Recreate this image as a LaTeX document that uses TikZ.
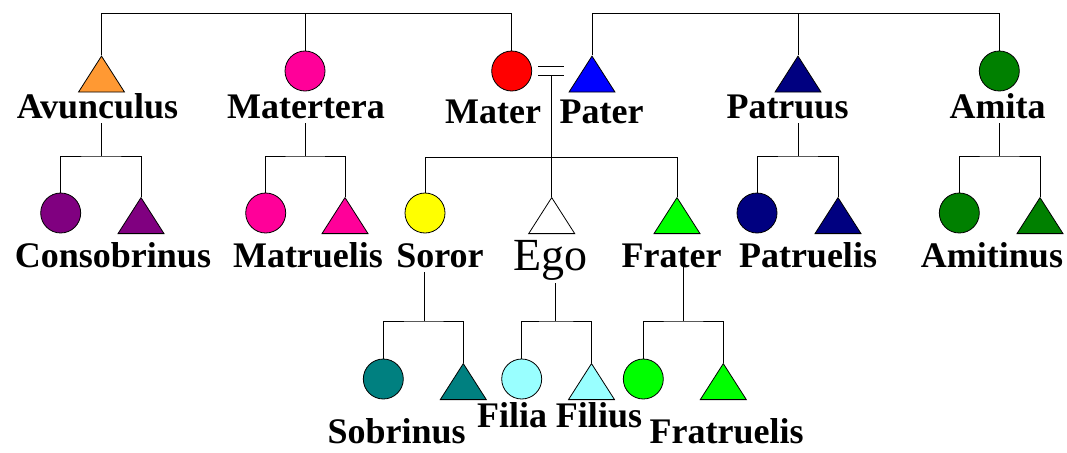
\documentclass[tikz,border=0pt]{standalone}
\usepackage{fontspec}
\setmainfont{Liberation Serif}
\usepackage{tikz}
\usetikzlibrary{shapes,shapes.geometric,positioning}
\definecolor{aurantium}{RGB}{255,153,51}
\definecolor{rosa}{RGB}{255,0,153}
\definecolor{ruber}{RGB}{255,0,0}
\definecolor{caeruleus}{RGB}{0,0,255}
\definecolor{navy}{RGB}{0,0,128}
\definecolor{viridis}{RGB}{0,128,0}
\definecolor{purpura}{RGB}{128,0,128}
\definecolor{flavus}{RGB}{255,255,0}
\definecolor{prasinus}{RGB}{0,255,0}
\definecolor{thalassa}{RGB}{0,128,128}
\definecolor{glaucus}{RGB}{153,255,255}
\tikzstyle{line} = [draw, line width=0.8pt]
\tikzstyle{fem} = [draw, circle, line width=0.8pt, minimum size=40pt, inner sep=0pt]
\tikzstyle{mas} = [draw, isosceles triangle, isosceles triangle stretches, shape border rotate=90, line width=0.8pt, minimum width=46pt, minimum height=36pt, inner sep=0pt]
\tikzstyle{kin} = [inner sep=0pt, text height=24pt, text depth=5pt, font=\fontsize{36}{40}\selectfont\bfseries]

\begin{document}
\begin{tikzpicture}[x=1pt, y=-1pt]
		\useasboundingbox (0,0) rectangle (1067,452);
		
		\node [mas, fill=aurantium] (avunc) at (101.5,79.5) {};
		\node [fem, fill=rosa, right of = avunc, node distance = 203.5pt, yshift=8.5pt] (matertera) {};
		\node [fem, fill=ruber, right of = matertera, node distance = 206.7pt] (mater) {};
		\node [mas, fill=caeruleus, right of = mater, node distance = 80.3pt, yshift=-8.5pt] (pater) {};
		\node [mas, fill=navy, right of = pater, node distance = 206pt] (patruus) {};
		\node [fem, fill=viridis, right of = patruus, node distance = 201.3pt, yshift=8.5pt] (amita) {};
		
		\node [kin, below of = avunc, node distance = 29pt, xshift=-4pt] (avunc_l) {Avunculus};
		\node [kin, below of = matertera, node distance = 37.5pt, xshift=1pt] (matertera_l) {Matertera};
		\node [kin, below of = mater, node distance = 42.5pt, xshift=-18.7pt] (mater_l) {Mater};
		\node [kin, below of = pater, node distance = 34pt, xshift=9.7pt] (pater_l) {Pater};
		\node [kin, below of = patruus, node distance = 29pt, xshift=-10.5pt] (patruus_l) {Patruus};
		\node [kin, below of = amita, node distance = 37.5pt, xshift=-1.8pt] (amita_l) {Amita};
		
		\coordinate [above of = matertera, node distance = 57.7pt] (top_m);
		\coordinate [above of = patruus, node distance = 66.2pt] (top_p);
		\path [line] (avunc.north) |- (top_m) -| (mater.north);
		\path [line] (matertera.north) to (top_m);
		\path [line] (pater.north) |- (top_p) -| (amita.north);
		\path [line] (patruus.north) to (top_p);
		
		\coordinate [right of = mater, node distance = 26.3pt] (wed_a);
		\coordinate [right of = mater, node distance = 52.3pt] (wed_b);
		\path [line, double, double distance=7.5pt] (wed_a) to (wed_b);
		\coordinate [right of = mater, node distance = 40pt, yshift=-4.2pt] (wed_c);
		
		
		\node [fem, fill=purpura, below of = avunc, node distance = 133.5pt, xshift=-40.8pt] (consob_f) {};
		\node [mas, fill=purpura, right of = consob_f, node distance = 80.3pt, yshift=-8pt] (consob_m) {};
		\node [fem, fill=rosa, right of = consob_m, node distance = 124.7pt, yshift=8pt] (matruel_f) {};
		\node [mas, fill=rosa, right of = matruel_f, node distance = 79.3pt, yshift=-8pt] (matruel_m) {};
		\node [fem, fill=flavus, right of = matruel_m, node distance = 80pt, yshift=8pt] (soror) {};
		\node [mas, fill=white, right of = soror, node distance = 126.7pt, yshift=-8pt] (ego) {};
		\node [mas, fill=prasinus, right of = ego, node distance = 125.3pt] (frater) {};
		\node [fem, fill=navy, right of = frater, node distance = 80pt, yshift=8pt] (patruel_f) {};
		\node [mas, fill=navy, right of = patruel_f, node distance = 81pt, yshift=-8pt] (patruel_m) {};
		\node [fem, fill=viridis, right of = patruel_m, node distance = 121.3pt, yshift=8pt] (amitin_f) {};
		\node [mas, fill=viridis, right of = amitin_f, node distance = 80.7pt, yshift=-8pt] (amitin_m) {};
		
		\node [kin, below of = consob_f, node distance = 44.5pt, xshift=52.3pt] (consob_l) {Consobrinus};
		\node [kin, below of = matruel_f, node distance = 44.5pt, xshift=42.3pt] (matruel_l) {Matruelis};
		\node [kin, below of = soror, node distance = 44.5pt, xshift=15pt] (soror_l) {Soror};
		\node [kin, below of = ego, node distance = 40pt, xshift=-1pt, text height=31pt, text depth=13pt, font=\fontsize{46}{50}\selectfont] (ego_l) {Ego};
		\node [kin, below of = frater, node distance = 36.5pt, xshift=-5.5pt] (frater_l) {Frater};
		\node [kin, below of = patruel_f, node distance = 44.5pt, xshift=51pt] (patruel_l) {Patruelis};
		\node [kin, below of = amitin_f, node distance = 44.5pt, xshift=32.7pt] (amitin_l) {Amitinus};
		
		\coordinate [below of = avunc, node distance = 76.5pt] (avunc_k);
		\coordinate [below of = matertera, node distance = 85pt] (matertera_k);
		\coordinate [below of = wed_c, node distance = 82pt] (sib_k);
		\coordinate [below of = patruus, node distance = 76.5pt] (patruus_k);
		\coordinate [below of = amita, node distance = 85pt] (amita_k);
		
		\path [line] (avunc_l.south -| avunc_k) to (avunc_k);
		\path [line] (consob_f.north) |- (avunc_k) -| (consob_m.north);
		\path [line] (matertera_l.south -| matertera_k) to (matertera_k);
		\path [line] (matruel_f.north) |- (matertera_k) -| (matruel_m.north);
		\path [line] (wed_c) to (ego.north);
		\path [line] (soror.north) |- (sib_k) -| (frater.north);
		\path [line] (patruus_l.south -| patruus_k) to (patruus_k);
		\path [line] (patruel_f.north) |- (patruus_k) -| (patruel_m.north);
		\path [line] (amita_l.south -| amita_k) to (amita_k);
		\path [line] (amitin_f.north) |- (amita_k) -| (amitin_m.north);
		
		
		\node [fem, fill=thalassa, below of = soror, node distance = 166pt, xshift=-41.7pt] (sobrin_f) {};
		\node [mas, fill=thalassa, right of = sobrin_f, node distance = 80pt, yshift=-8pt] (sobrin_m) {};
		\node [fem, fill=glaucus, right of = sobrin_m, node distance = 58.4pt, yshift=8pt] (filia) {};
		\node [mas, fill=glaucus, right of = filia, node distance = 69.8pt, yshift=-8pt] (filius) {};
		\node [fem, fill=prasinus, right of = filius, node distance = 51.8pt, yshift=8pt] (fratruel_f) {};
		\node [mas, fill=prasinus, right of = fratruel_f, node distance = 80pt, yshift=-8pt] (fratruel_m) {};
		
		\node [kin, below of = sobrin_f, node distance = 53pt, xshift=13.4pt, text depth=1pt] (sobrin_l) {Sobrinus};
		\node [kin, below of = filia, node distance = 38.5pt, xshift=-9.7pt] (filia_l) {Filia};
		\node [kin, below of = filius, node distance = 30.5pt, xshift=7.5pt] (filius_l) {Filius};
		\node [kin, below of = fratruel_f, node distance = 53pt, xshift=83.4pt, text depth=1pt] (fratruel_l) {Fratruelis};
		
		\coordinate [below of = soror, node distance = 108pt, xshift=-1pt] (soror_k);
		\coordinate [below of = ego, node distance = 100pt, xshift=4pt] (ego_k);
		\coordinate [below of = frater, node distance = 100pt, xshift=6.5pt] (frater_k);
		
		\path [line] (soror_l.south -| soror_k) to (soror_k);
		\path [line] (sobrin_f.north) |- (soror_k) -| (sobrin_m.north);
		\path [line] (ego_l.south -| ego_k) to (ego_k);
		\path [line] (filia.north) |- (ego_k) -| (filius.north);
		\path [line] (frater_l.base -| frater_k) to (frater_k);
		\path [line] (fratruel_f.north) |- (frater_k) -| (fratruel_m.north);
\end{tikzpicture}
\end{document}
